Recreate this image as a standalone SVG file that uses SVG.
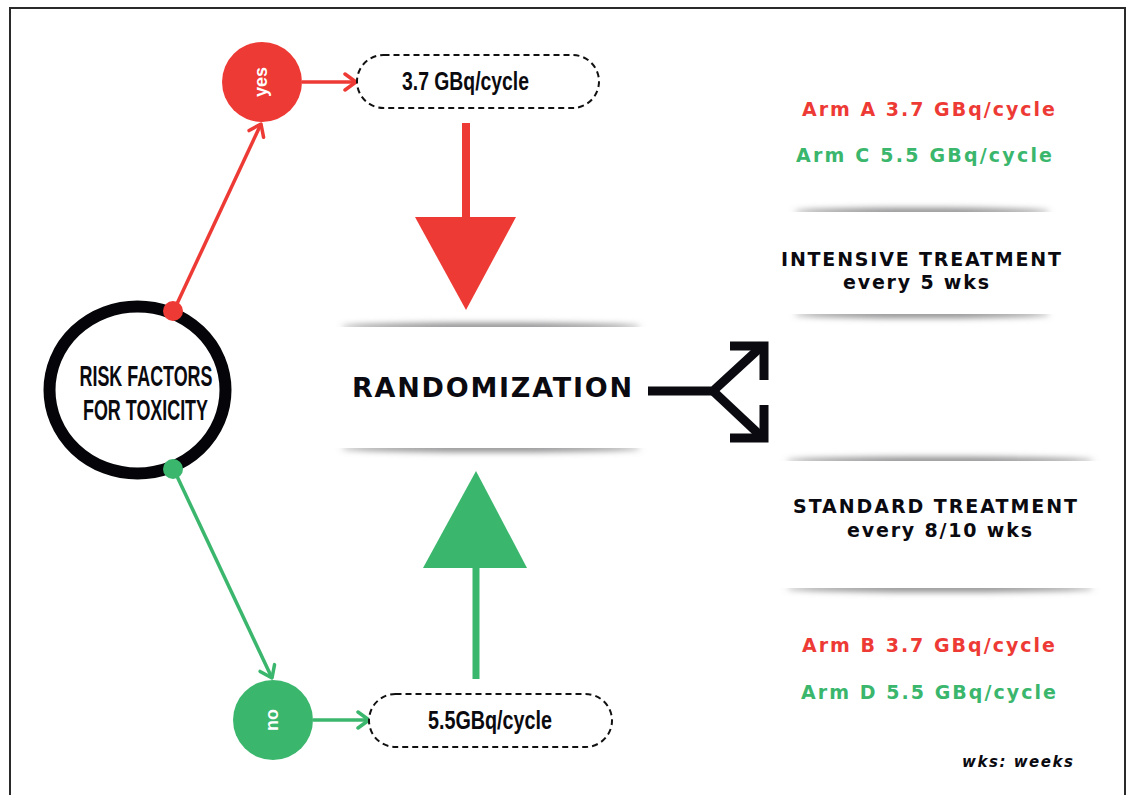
<svg xmlns="http://www.w3.org/2000/svg" width="1130" height="795" viewBox="0 0 1130 795">
  <defs>
    <style>
      .cond { font-family: "Liberation Sans Narrow", "Liberation Sans", Arial, sans-serif; font-weight: bold; fill: #0a0a0f; }
      .geo { font-family: "DejaVu Sans", "Liberation Sans", Arial, sans-serif; font-weight: bold; }
      .lbl { font-family: "Liberation Sans", Arial, sans-serif; font-weight: bold; }
      .red { fill: #EE3A35; }
      .green { fill: #3AB66D; }
      .blk { fill: #0a0a10; }
      .dash { fill: #fff; stroke: #111; stroke-width: 2; stroke-dasharray: 6 4; }
      .shadow { fill: #8a8a8c; filter: url(#blur); }
      .card { fill: #fff; }
    </style>
    <filter id="blur" x="-20%" y="-200%" width="140%" height="500%">
      <feGaussianBlur stdDeviation="3"/>
    </filter>
    <marker id="arrRed" viewBox="0 0 16 20" refX="14" refY="10" markerWidth="16" markerHeight="20" markerUnits="userSpaceOnUse" orient="auto">
      <path d="M3,2 L14,10 L3,18" fill="none" stroke="#EE3A35" stroke-width="3.5" stroke-linecap="round" stroke-linejoin="round"/>
    </marker>
    <marker id="arrGreen" viewBox="0 0 16 20" refX="14" refY="10" markerWidth="16" markerHeight="20" markerUnits="userSpaceOnUse" orient="auto">
      <path d="M3,2 L14,10 L3,18" fill="none" stroke="#3AB66D" stroke-width="3.5" stroke-linecap="round" stroke-linejoin="round"/>
    </marker>
  </defs>

  <rect width="1130" height="795" fill="#fff"/>
  <path d="M10,795 L10,8 L1125,8 L1125,795" fill="none" stroke="#2a2a2a" stroke-width="2"/>

  <!-- shadow cards -->
  <g id="cards">
    <ellipse class="shadow" cx="491" cy="327" rx="150" ry="4"/>
    <ellipse class="shadow" cx="491" cy="448" rx="150" ry="4"/>
    <rect class="card" x="330" y="327" width="322" height="121"/>
    <ellipse class="shadow" cx="922" cy="212" rx="128" ry="4"/>
    <ellipse class="shadow" cx="922" cy="314" rx="128" ry="4"/>
    <rect class="card" x="785" y="212" width="275" height="102"/>
    <ellipse class="shadow" cx="940" cy="461" rx="154" ry="4"/>
    <ellipse class="shadow" cx="940" cy="588" rx="154" ry="4"/>
    <rect class="card" x="775" y="461" width="330" height="127"/>
  </g>

  <!-- connectors -->
  <g id="connectors">
    <line x1="175" y1="308" x2="261" y2="124" stroke="#EE3A35" stroke-width="3.5" marker-end="url(#arrRed)"/>
    <line x1="302" y1="82" x2="356" y2="82" stroke="#EE3A35" stroke-width="3.5" marker-end="url(#arrRed)"/>
    <line x1="175" y1="472" x2="272" y2="678" stroke="#3AB66D" stroke-width="3.5" marker-end="url(#arrGreen)"/>
    <line x1="313" y1="720" x2="369" y2="720" stroke="#3AB66D" stroke-width="3.5" marker-end="url(#arrGreen)"/>
    <!-- big red arrow -->
    <rect x="462" y="123" width="8" height="95" fill="#EE3A35"/>
    <polygon points="415,217 516,217 466,310" fill="#EE3A35"/>
    <!-- big green arrow -->
    <rect x="472.5" y="567" width="7" height="112" fill="#3AB66D"/>
    <polygon points="423,568 527,568 476,471" fill="#3AB66D"/>
    <!-- split arrow -->
    <g fill="none" stroke="#0a0a10" stroke-width="9" stroke-linejoin="miter" stroke-linecap="butt">
      <path d="M648,391 L713,391 L763,345"/>
      <path d="M713,391 L763,438"/>
      <path d="M730,346 L764,346 L764,380"/>
      <path d="M730,438 L764,438 L764,405"/>
    </g>
  </g>

  <!-- risk factors node -->
  <g id="risk">
    <ellipse cx="137.5" cy="390" rx="88" ry="83.5" fill="#fff" stroke="#050509" stroke-width="12"/>
    <text class="cond" x="146" y="386" font-size="29" text-anchor="middle" textLength="133" lengthAdjust="spacingAndGlyphs">RISK FACTORS</text>
    <text class="cond" x="145.5" y="420" font-size="29" text-anchor="middle" textLength="125" lengthAdjust="spacingAndGlyphs">FOR TOXICITY</text>
    <circle cx="173" cy="311" r="10" fill="#EE3A35"/>
    <circle cx="173" cy="469" r="10" fill="#3AB66D"/>
  </g>

  <!-- yes node -->
  <g id="yes">
    <circle cx="262" cy="82" r="40" fill="#EE3A35"/>
    <text class="lbl" transform="translate(262,82) rotate(-90)" x="0" y="5" font-size="18" fill="#fff" text-anchor="middle">yes</text>
  </g>

  <!-- no node -->
  <g id="no">
    <circle cx="273" cy="720" r="40" fill="#3AB66D"/>
    <text class="lbl" transform="translate(273,720) rotate(-90)" x="0" y="5" font-size="18" fill="#fff" text-anchor="middle">no</text>
  </g>

  <!-- dose boxes -->
  <g id="dose37">
    <rect class="dash" x="357" y="55" width="242" height="53" rx="26.5"/>
    <text class="cond" x="465.5" y="90" font-size="25" text-anchor="middle" textLength="127" lengthAdjust="spacingAndGlyphs">3.7 GBq/cycle</text>
  </g>
  <g id="dose55">
    <rect class="dash" x="369" y="694" width="243" height="53" rx="26.5"/>
    <text class="cond" x="490" y="729" font-size="25" text-anchor="middle" textLength="124" lengthAdjust="spacingAndGlyphs">5.5GBq/cycle</text>
  </g>

  <!-- randomization -->
  <g id="randomization">
    <text class="geo blk" x="352" y="397" font-size="27" textLength="280" lengthAdjust="spacing">RANDOMIZATION</text>
  </g>

  <!-- right side texts -->
  <g id="armsAC">
    <text class="geo red" x="802" y="116" font-size="19" textLength="253" lengthAdjust="spacing">Arm A 3.7 GBq/cycle</text>
    <text class="geo green" x="796" y="162" font-size="19" textLength="256" lengthAdjust="spacing">Arm C 5.5 GBq/cycle</text>
  </g>
  <g id="intensive">
    <text class="geo blk" x="781" y="266" font-size="19" textLength="280" lengthAdjust="spacing">INTENSIVE TREATMENT</text>
    <text class="geo blk" x="843" y="289" font-size="19" textLength="146" lengthAdjust="spacing">every 5 wks</text>
  </g>
  <g id="standard">
    <text class="geo blk" x="793" y="513" font-size="19" textLength="284" lengthAdjust="spacing">STANDARD TREATMENT</text>
    <text class="geo blk" x="847" y="537" font-size="19" textLength="185" lengthAdjust="spacing">every 8/10 wks</text>
  </g>
  <g id="armsBD">
    <text class="geo red" x="802" y="652" font-size="19" textLength="253" lengthAdjust="spacing">Arm B 3.7 GBq/cycle</text>
    <text class="geo green" x="801" y="699" font-size="19" textLength="255" lengthAdjust="spacing">Arm D 5.5 GBq/cycle</text>
  </g>
  <g id="legend">
    <text class="geo blk" x="962" y="767" font-size="15" font-style="italic" textLength="111" lengthAdjust="spacing">wks: weeks</text>
  </g>
</svg>
